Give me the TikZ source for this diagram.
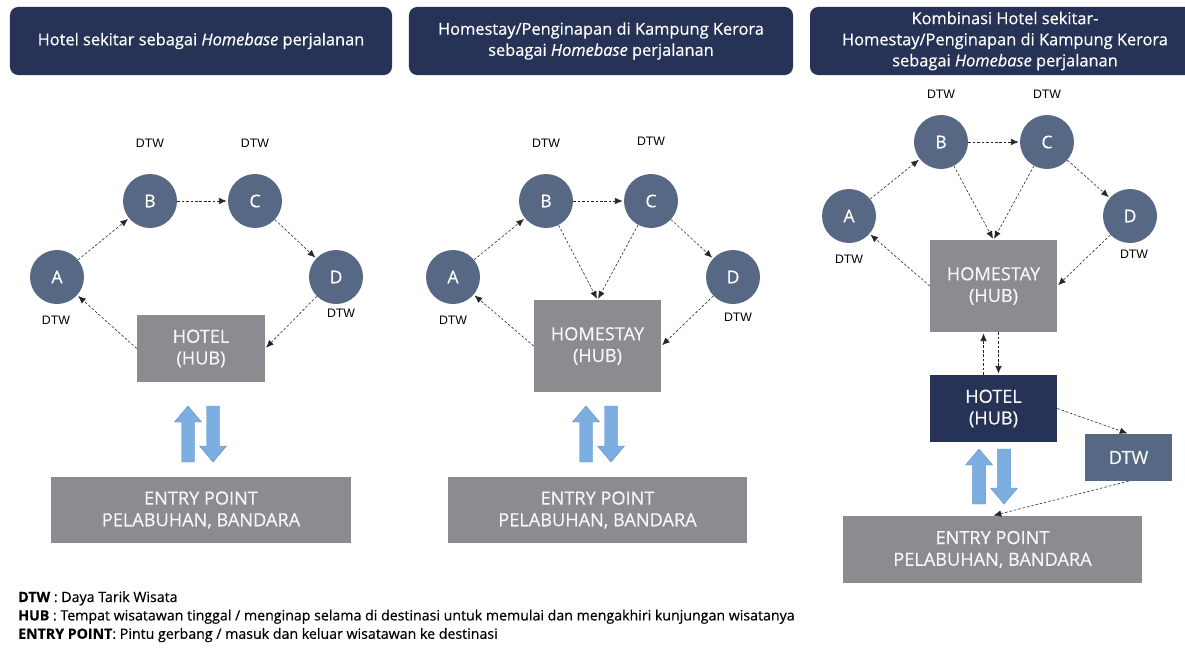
\documentclass[tikz,border=0pt]{standalone}
\usepackage{fontspec}
\setmainfont{Open Sans}[FakeBold=0.4]
\newfontfamily\labelfont{Liberation Sans}
\usetikzlibrary{arrows.meta}

\definecolor{navy}{RGB}{38,51,86}
\definecolor{slate}{RGB}{87,104,133}
\definecolor{hubgray}{RGB}{139,140,144}
\definecolor{arrowblue}{RGB}{124,174,226}
\definecolor{arrowedge}{RGB}{98,148,206}

\begin{document}
\begin{tikzpicture}[x=0.03cm, y=-0.03cm, shorten >=1pt, >={Latex[length=6.5pt,width=5.5pt]}]
    \tikzstyle{dtw}=[circle, fill=slate, minimum size=1.62cm, inner sep=0pt, text=white, font=\fontsize{15}{17}\selectfont]
    \tikzstyle{dtw label}=[font=\labelfont\fontsize{10.5}{12}\selectfont]
    \tikzstyle{hub}=[fill=hubgray, text=white!94!gray, align=center, inner sep=0pt, font=\fontsize{15.5}{18.5}\selectfont]
    \tikzstyle{header}=[fill=navy, text=white, align=center, rounded corners=7pt, inner sep=0pt, font=\fontsize{14}{18}\selectfont]
    \tikzstyle{flow}=[->, dash pattern=on 2.2pt off 1.6pt, line width=0.5pt, black!85]
    \tikzstyle{big arrow}=[fill=arrowblue, draw=arrowedge, line width=0.4pt]

    \useasboundingbox (0,0) rectangle (1185,648);

    % Draw the headers
    \node[header, minimum width=11.46cm, minimum height=2.04cm] (H-1) at (201,41) {Hotel sekitar sebagai \textit{Homebase} perjalanan};
    \node[header, minimum width=11.52cm, minimum height=2.04cm] (H-2) at (601,41) {Homestay/Penginapan di Kampung Kerora\\sebagai \textit{Homebase} perjalanan};
    \node[header, minimum width=11.7cm, minimum height=2.04cm] (H-3) at (1005,41) {Kombinasi Hotel sekitar-\\Homestay/Penginapan di Kampung Kerora\\sebagai \textit{Homebase} perjalanan};

    % Panel 1: hotel as hub
    \foreach \name/\x/\y in {A/57/277, B/150/201, C/255/201, D/336/277}
        \node[dtw] (P1-\name) at (\x,\y) {\name};
    \foreach \name/\x/\y in {A/56/320, B/150/143, C/255/143, D/341/313}
        \node[dtw label] (P1-\name-lbl) at (\x,\y) {DTW};
    \node[hub, minimum width=3.84cm, minimum height=2.01cm] (P1-hub) at (201,348.5) {HOTEL\\(HUB)};
    \node[hub, minimum width=9cm, minimum height=1.98cm] (P1-entry) at (201,510) {ENTRY POINT\\PELABUHAN, BANDARA};
    \draw[flow] (P1-A) -- (P1-B);
    \draw[flow] (P1-B) -- (P1-C);
    \draw[flow] (P1-C) -- (P1-D);
    \draw[flow] (P1-D) -- (P1-hub.east);
    \draw[flow] (P1-hub.west) -- (P1-A);

    % Panel 2: homestay as hub
    \foreach \name/\x/\y in {A/453/277, B/546/201, C/651/201, D/733/277}
        \node[dtw] (P2-\name) at (\x,\y) {\name};
    \foreach \name/\x/\y in {A/453/320, B/546/143, C/651/141, D/738/317}
        \node[dtw label] (P2-\name-lbl) at (\x,\y) {DTW};
    \node[hub, minimum width=3.81cm, minimum height=2.76cm] (P2-hub) at (597.5,346) {HOMESTAY\\(HUB)};
    \node[hub, minimum width=8.97cm, minimum height=1.98cm] (P2-entry) at (597.5,510) {ENTRY POINT\\PELABUHAN, BANDARA};
    \draw[flow] (P2-A) -- (P2-B);
    \draw[flow] (P2-B) -- (P2-C);
    \draw[flow] (P2-C) -- (P2-D);
    \draw[flow] (P2-B) -- (P2-hub.north);
    \draw[flow] (P2-C) -- (P2-hub.north);
    \draw[flow] (P2-D) -- (P2-hub.east);
    \draw[flow] (P2-hub.west) -- (P2-A);

    % Panel 3: hotel and homestay combined
    \foreach \name/\x/\y in {A/849/216, B/941/142, C/1047/142, D/1130/216}
        \node[dtw] (P3-\name) at (\x,\y) {\name};
    \foreach \name/\x/\y in {A/849/259, B/941/94, C/1047/94, D/1134/254}
        \node[dtw label] (P3-\name-lbl) at (\x,\y) {DTW};
    \node[hub, minimum width=3.81cm, minimum height=2.76cm] (P3-hub) at (993.5,286) {HOMESTAY\\(HUB)};
    \node[hub, fill=navy, minimum width=3.81cm, minimum height=2.01cm] (P3-hotel) at (993.5,408.5) {HOTEL\\(HUB)};
    \node[hub, fill=slate, minimum width=2.61cm, minimum height=1.41cm] (P3-dtw) at (1128.5,457.5) {DTW};
    \node[hub, minimum width=8.97cm, minimum height=2.01cm] (P3-entry) at (992.5,549.5) {ENTRY POINT\\PELABUHAN, BANDARA};
    \draw[flow] (P3-A) -- (P3-B);
    \draw[flow] (P3-B) -- (P3-C);
    \draw[flow] (P3-C) -- (P3-D);
    \draw[flow] (P3-B) -- (P3-hub.north);
    \draw[flow] (P3-C) -- (P3-hub.north);
    \draw[flow] (P3-D) -- (P3-hub.east);
    \draw[flow] (P3-hub.west) -- (P3-A);
    \draw[flow] ([xshift=-8.5pt]P3-hotel.north) -- ([xshift=-8.5pt]P3-hub.south);
    \draw[flow] ([xshift=4.25pt]P3-hub.south) -- ([xshift=4.25pt]P3-hotel.north);
    \draw[flow] (P3-hotel.east) -- (P3-dtw.north);
    \draw[flow] (P3-dtw.south) -- (P3-entry.north);

    % Two-way arrows between hub and entry point
    \foreach \cx/\ya/\yb in {188/406/462, 586/406/462, 979/449/504} {
        \filldraw[big arrow] (\cx-6.5,\yb) -- (\cx-6.5,\ya+16) -- (\cx-13.5,\ya+16) -- (\cx,\ya)
            -- (\cx+13.5,\ya+16) -- (\cx+6.5,\ya+16) -- (\cx+6.5,\yb) -- cycle;
        \filldraw[big arrow] (\cx+18.5,\ya) -- (\cx+18.5,\yb-16) -- (\cx+11.5,\yb-16) -- (\cx+25,\yb)
            -- (\cx+38.5,\yb-16) -- (\cx+31.5,\yb-16) -- (\cx+31.5,\ya) -- cycle;
    }

    % Legend
    \node[anchor=north west, align=left, inner sep=0pt, font=\fontsize{12.1}{15.7}\selectfont] (legend) at (18,591)
        {\textbf{DTW} : Daya Tarik Wisata\\
         \textbf{HUB} : Tempat wisatawan tinggal / menginap selama di destinasi untuk memulai dan mengakhiri kunjungan wisatanya\\
         \textbf{ENTRY POINT}: Pintu gerbang / masuk dan keluar wisatawan ke destinasi};
\end{tikzpicture}
\end{document}
